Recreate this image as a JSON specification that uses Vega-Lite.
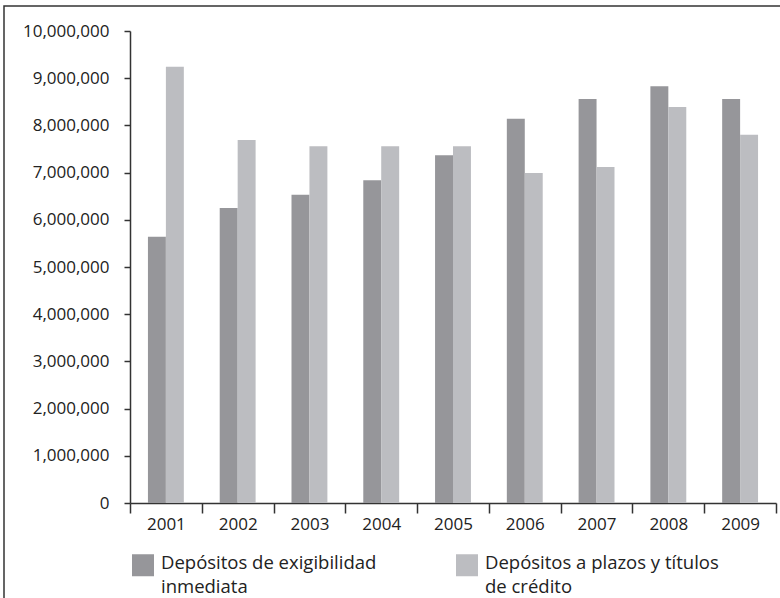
{
  "$schema": "https://vega.github.io/schema/vega-lite/v6.json",
  "autosize": "none",
  "padding": {"left": 4, "top": 6, "right": 0, "bottom": 0},
  "width": 780,
  "height": 600,
  "background": "white",
  "data": {
    "values": [
      {"year": "2001", "series": "Depósitos de exigibilidad inmediata", "value": 5640000},
      {"year": "2002", "series": "Depósitos de exigibilidad inmediata", "value": 6250000},
      {"year": "2003", "series": "Depósitos de exigibilidad inmediata", "value": 6530000},
      {"year": "2004", "series": "Depósitos de exigibilidad inmediata", "value": 6840000},
      {"year": "2005", "series": "Depósitos de exigibilidad inmediata", "value": 7370000},
      {"year": "2006", "series": "Depósitos de exigibilidad inmediata", "value": 8140000},
      {"year": "2007", "series": "Depósitos de exigibilidad inmediata", "value": 8560000},
      {"year": "2008", "series": "Depósitos de exigibilidad inmediata", "value": 8830000},
      {"year": "2009", "series": "Depósitos de exigibilidad inmediata", "value": 8560000},
      {"year": "2001", "series": "Depósitos a plazos y títulos de crédito", "value": 9240000},
      {"year": "2002", "series": "Depósitos a plazos y títulos de crédito", "value": 7690000},
      {"year": "2003", "series": "Depósitos a plazos y títulos de crédito", "value": 7560000},
      {"year": "2004", "series": "Depósitos a plazos y títulos de crédito", "value": 7560000},
      {"year": "2005", "series": "Depósitos a plazos y títulos de crédito", "value": 7560000},
      {"year": "2006", "series": "Depósitos a plazos y títulos de crédito", "value": 6990000},
      {"year": "2007", "series": "Depósitos a plazos y títulos de crédito", "value": 7120000},
      {"year": "2008", "series": "Depósitos a plazos y títulos de crédito", "value": 8390000},
      {"year": "2009", "series": "Depósitos a plazos y títulos de crédito", "value": 7800000}
    ]
  },
  "mark": {"type": "bar"},
  "encoding": {
    "x": {
      "field": "year",
      "type": "nominal",
      "title": null,
      "scale": {"range": [126, 772], "paddingInner": 0, "paddingOuter": 0},
      "axis": {
        "tickBand": "extent",
        "offset": -103,
        "labelAngle": 0,
        "tickSize": 10,
        "labelPadding": 3,
        "labelFont": "Open Sans",
        "labelFontSize": 17,
        "labelColor": "#222",
        "domainColor": "#333",
        "domainWidth": 1.5,
        "tickColor": "#333",
        "tickWidth": 1.5
      }
    },
    "xOffset": {
      "field": "series",
      "type": "nominal",
      "sort": ["Depósitos de exigibilidad inmediata", "Depósitos a plazos y títulos de crédito"],
      "scale": {"paddingOuter": 1, "paddingInner": 0}
    },
    "y": {
      "field": "value",
      "type": "quantitative",
      "title": null,
      "scale": {"domain": [0, 10000000], "range": [497, 25], "nice": false},
      "axis": {
        "values": [0, 1000000, 2000000, 3000000, 4000000, 5000000, 6000000, 7000000, 8000000, 9000000, 10000000],
        "format": ",d",
        "grid": false,
        "offset": -126,
        "tickSize": 6,
        "labelPadding": 15,
        "labelFont": "Open Sans",
        "labelFontSize": 17,
        "labelColor": "#222",
        "domainColor": "#333",
        "domainWidth": 1.5,
        "tickColor": "#333",
        "tickWidth": 1.5
      }
    },
    "color": {
      "field": "series",
      "type": "nominal",
      "scale": {
        "domain": ["Depósitos de exigibilidad inmediata", "Depósitos a plazos y títulos de crédito"],
        "range": ["#96969a", "#bcbdc1"]
      },
      "legend": {
        "title": null,
        "orient": "none",
        "legendX": 128,
        "legendY": 548,
        "direction": "horizontal",
        "columns": 2,
        "columnPadding": 79,
        "padding": 0,
        "symbolType": "square",
        "symbolSize": 484,
        "symbolStrokeWidth": 0,
        "symbolOpacity": 1,
        "labelFont": "Open Sans",
        "labelFontSize": 18.5,
        "labelColor": "#222",
        "labelOffset": 7,
        "labelLimit": 400,
        "labelBaseline": "alphabetic",
        "labelExpr": "datum.value == 'Depósitos de exigibilidad inmediata' ? ['Depósitos de exigibilidad', 'inmediata'] : ['Depósitos a plazos y títulos', 'de crédito']",
        "encode": {
          "labels": {"update": {"lineHeight": {"value": 24}, "dy": {"value": 4}}}
        }
      }
    }
  },
  "config": {
    "view": {"stroke": "#333", "strokeWidth": 1.5}
  }
}
